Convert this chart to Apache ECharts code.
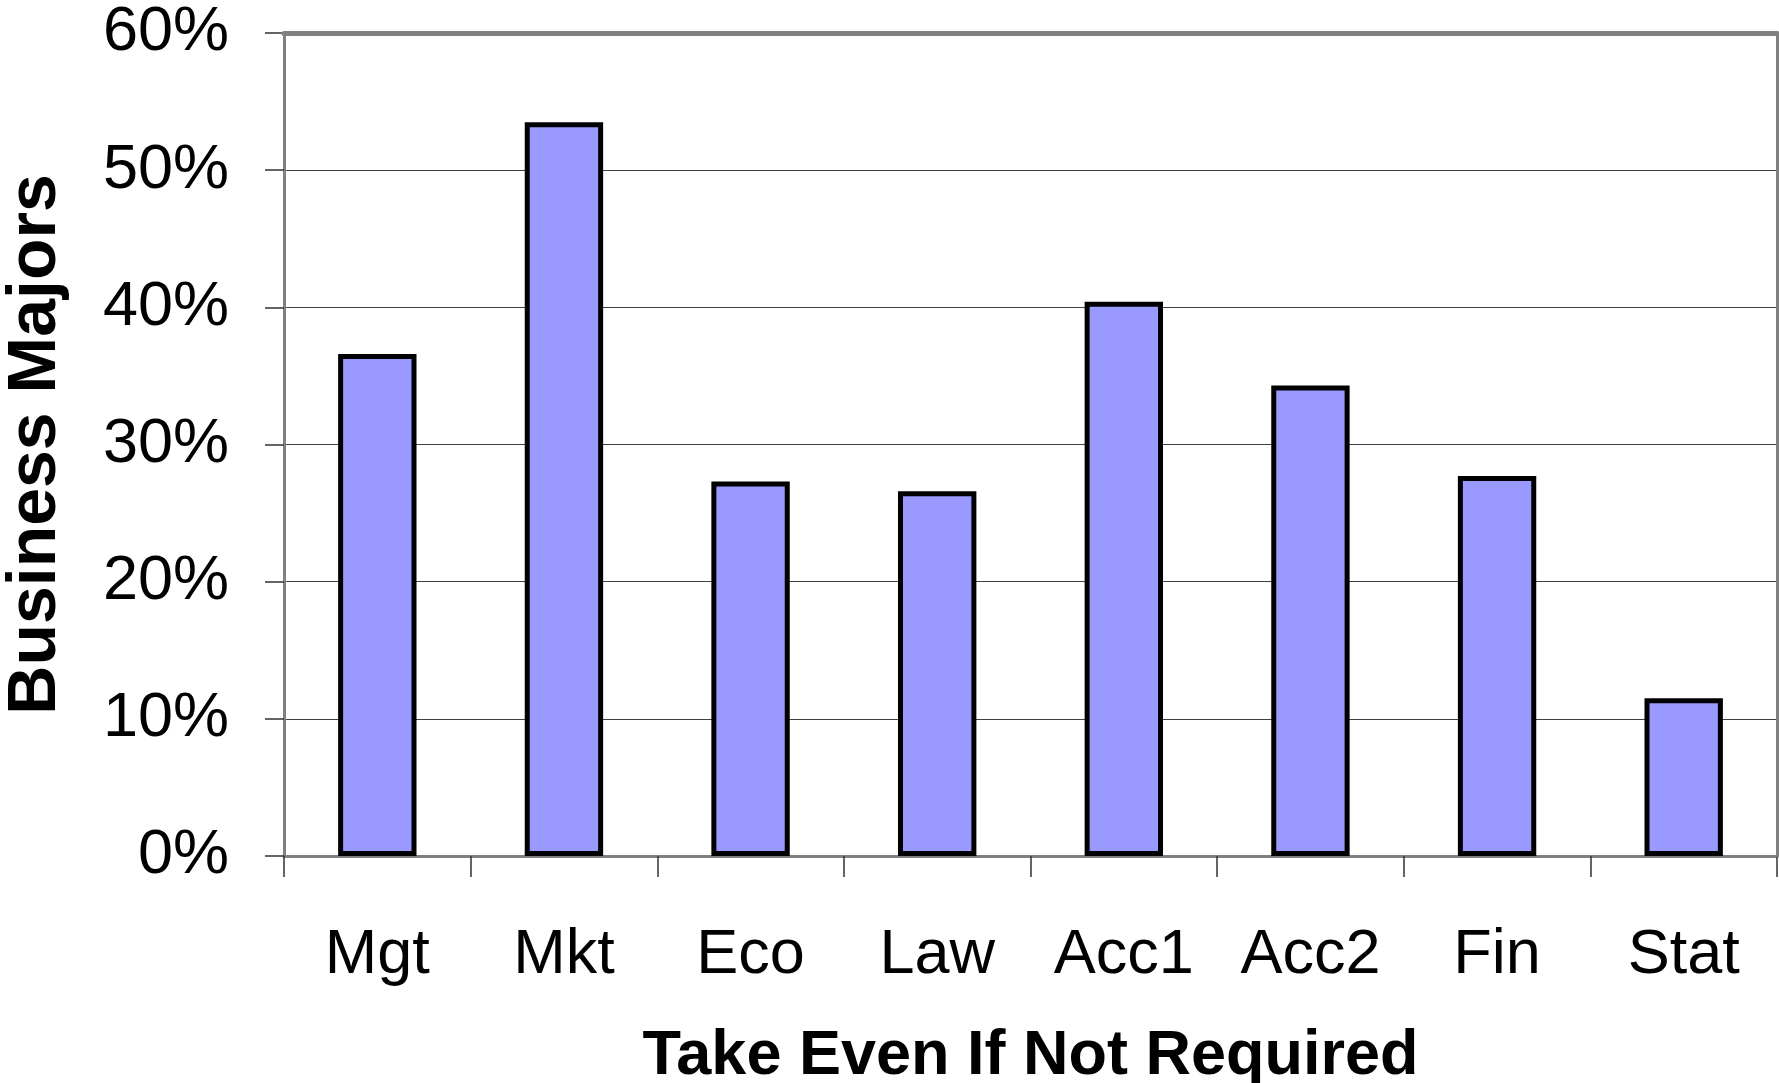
<!DOCTYPE html>
<html>
<head>
<meta charset="utf-8">
<script src="https://cdn.jsdelivr.net/npm/echarts@6/dist/echarts.min.js"></script>
<style>
  html, body { margin: 0; padding: 0; background: #fff; }
  #chart { width: 1779px; height: 1083px; }
</style>
</head>
<body>
<div id="chart"></div>
<script>
// categories and values (percent of business majors)
const categories = ["Mgt", "Mkt", "Eco", "Law", "Acc1", "Acc2", "Fin", "Stat"];
const takeEven = [36.6, 53.5, 27.3, 26.6, 40.4, 34.3, 27.7, 11.5];
const yTicks = [0, 10, 20, 30, 40, 50, 60];

const font = "'Liberation Sans', Arial, sans-serif";
const frameGray = "#808080";

const chart = echarts.init(document.getElementById("chart"));
chart.setOption({
  animation: false,
  grid: { left: 284, right: 2, top: 33, bottom: 227, outerBoundsMode: "none" },
  xAxis: [
    {
      type: "category",
      data: categories,
      name: "Take Even If Not Required",
      nameLocation: "middle",
      nameGap: 169,
      nameTextStyle: { fontFamily: font, fontSize: 63, fontWeight: "bold", color: "#000" },
      axisLine: { onZero: false, lineStyle: { color: frameGray, width: 3 } },
      axisTick: { show: true, length: 21, lineStyle: { color: "#333", width: 1.5 } },
      axisLabel: { margin: 68, fontFamily: font, fontSize: 63, color: "#000" },
    },
    {
      // top frame line
      type: "category",
      data: categories,
      position: "top",
      z: 5,
      axisLine: { onZero: false, lineStyle: { color: frameGray, width: 5 } },
      axisTick: { show: false },
      axisLabel: { show: false },
    },
  ],
  yAxis: [
    {
      type: "value",
      min: yTicks[0],
      max: yTicks[yTicks.length - 1],
      interval: 10,
      name: "Business Majors",
      nameLocation: "middle",
      nameGap: 214,
      nameTextStyle: { fontFamily: font, fontSize: 68, fontWeight: "bold", color: "#000" },
      axisLine: { show: true, onZero: false, lineStyle: { color: frameGray, width: 3 } },
      axisTick: { show: true, length: 19, lineStyle: { color: "#333", width: 1.5 } },
      axisLabel: { margin: 55, fontFamily: font, fontSize: 63, color: "#000", formatter: "{value}%" },
      splitLine: { lineStyle: { color: "#404040", width: 1.2 } },
    },
    {
      // right frame line
      type: "value",
      position: "right",
      min: yTicks[0],
      max: yTicks[yTicks.length - 1],
      interval: 10,
      z: 5,
      axisLine: { show: true, onZero: false, lineStyle: { color: frameGray, width: 3 } },
      axisTick: { show: false },
      axisLabel: { show: false },
      splitLine: { show: false },
    },
  ],
  series: [
    {
      type: "bar",
      data: takeEven,
      barWidth: "42%",
      itemStyle: { color: "#9999ff", borderColor: "#000", borderWidth: 5 },
    },
  ],
});
</script>
</body>
</html>
